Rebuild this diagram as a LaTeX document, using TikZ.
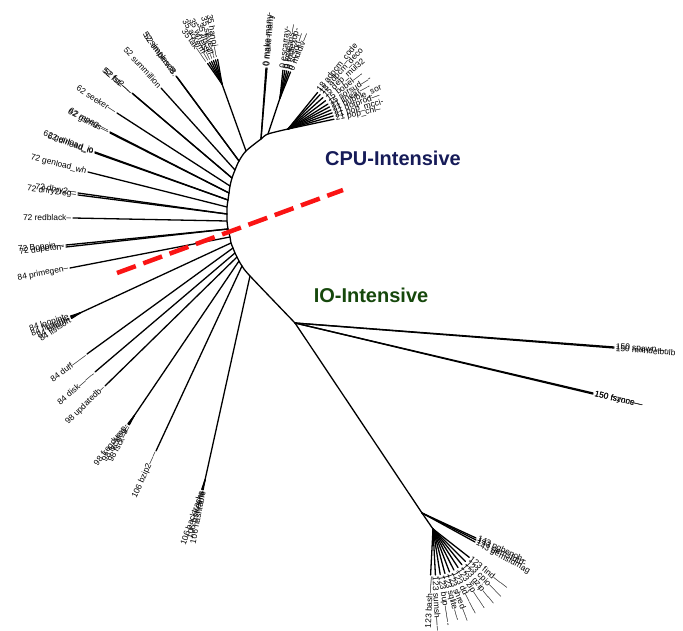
\documentclass[tikz,border=0pt]{standalone}
\usepackage{fontspec}
\setmainfont{Liberation Sans}
\usetikzlibrary{calc}
\definecolor{cpublue}{RGB}{22,27,88}
\definecolor{iogreen}{RGB}{22,72,12}
\definecolor{cutred}{RGB}{250,20,20}
\tikzset{
  edge/.style={line width=1.3pt, line cap=round},
  leaflabel/.style={font=\fontsize{8.4}{9}\selectfont, inner sep=1.2pt},
  groupname/.style={font=\bfseries\fontsize{20}{24}\selectfont},
}
% one branch of the tree with its label at the tip
\newcommand\leaf[4]{\draw[edge] (#1) -- (#2) node[leaflabel, pos=1, sloped, anchor=#4] (#2-t) {#3};}
% a fan of leaves around a common parent: root, prefix, length, anchor, angle/text list
\newcommand\fanout[5]{%
  \foreach \a/\t [count=\k] in {#5} {
    \coordinate (#2\k) at ($(#1)+({-(\a)}:#3)$);
    \leaf{#1}{#2\k}{\t}{#4}
  }}
\begin{document}
\begin{tikzpicture}[x=1pt,y=-1pt]
\useasboundingbox (0,0) rectangle (683,631);

% backbone of the tree
\coordinate (b0) at (288,129);
\coordinate (b1) at (268,134);
\coordinate (b2) at (261,139);
\coordinate (b3) at (246,151);
\coordinate (b4) at (239,161);
\coordinate (b5) at (235,170);
\coordinate (b6) at (232,178);
\coordinate (b7) at (230,186);
\coordinate (b8) at (229,193);
\coordinate (b9) at (228,200);
\coordinate (b10) at (227,207);
\coordinate (b11) at (227,214);
\coordinate (b12) at (227,221);
\coordinate (b13) at (228,229);
\coordinate (b14) at (230,237);
\coordinate (b15) at (231,243);
\coordinate (b16) at (233,248);
\coordinate (b17) at (235,253);
\coordinate (b18) at (237,257);
\coordinate (b19) at (239,261);
\coordinate (b20) at (242,266);
\coordinate (b21) at (250,276);
\coordinate (b22) at (295,323);
\draw[edge] plot[smooth, tension=0.5] coordinates {(b0) (b1) (b2) (b3) (b4) (b5) (b6) (b7) (b8) (b9) (b10) (b11) (b12) (b13) (b14) (b15) (b16) (b17) (b18) (b19) (b20) (b21) (b22)};

% CPU-intensive side
\fanout{b0}{ad}{47}{west}{51/18 adpcm\_code, 47/18 adpcm\_deco, 42/15 dep\_mul32, 37/15 bobel----, 32/15 sorsud----, 28/21 linear----, 24/21 bubble\_sor, 20/21 dotprod---, 16/21 pop\_mcci-, 12/21 pop\_chl--}

\coordinate (f1) at (280,98);
\draw[edge] (b1) -- (f1);
\fanout{f1}{es}{28}{west}{84/0 escarray-, 80/0 kmeans---, 76/0 mdtexop-, 72/0 scsort---, 68/0 muldiv---}

\coordinate (mm1) at (266,68);
\coordinate (mm2) at (267,68);
\leaf{b2}{mm1}{0 make-many-}{west}
\leaf{b2}{mm2}{0 make-many}{west}

\coordinate (f3) at (222,84);
\draw[edge] (b3) -- (f3);
\fanout{f3}{ha}{25}{east}{100/35 hanoi----, 105/35 sieve----, 110/35 fibcall--, 115/35 whetst---, 120/35 ackerm---, 125/35 tak------}

\coordinate (sp1) at (176,76);
\coordinate (sp2) at (177,77);
\leaf{b4}{sp1}{52 simplesc8.}{east}
\leaf{b4}{sp2}{52 timberwf8.}{east}

\coordinate (sm) at (161,88);
\leaf{b5}{sm}{52 summillion}{east}

\coordinate (fs1) at (132,93);
\coordinate (fs2) at (133,94);
\leaf{b6}{fs1}{52 fst-----}{east}
\leaf{b6}{fs2}{52 fst2----}{east}

\coordinate (sk) at (117,113);
\leaf{b7}{sk}{62 seeker---}{east}

\coordinate (mp1) at (110,132);
\coordinate (mp2) at (110,133);
\leaf{b8}{mp1}{62 mpeg----}{east}
\leaf{b8}{mp2}{62 gsmus---}{east}

\coordinate (gi1) at (95,152);
\coordinate (gi2) at (95,153);
\leaf{b9}{gi1}{62 genload\_io}{east}
\leaf{b9}{gi2}{62 dirload\_io}{east}

\coordinate (gw) at (88,172);
\leaf{b10}{gw}{72 genload\_wh}{east}

\coordinate (dh1) at (78,193);
\coordinate (dh2) at (78,195);
\leaf{b11}{dh1}{72 dhry2---}{east}
\leaf{b11}{dh2}{72 dhry2reg--}{east}

\coordinate (rb) at (73,218);
\leaf{b12}{rb}{72 redblack--}{east}

\coordinate (bo1) at (66,245);
\coordinate (bo2) at (66,247);
\leaf{b13}{bo1}{72 Boppin---}{east}
\leaf{b13}{bo2}{72 dupeton-}{east}

\coordinate (pg) at (70,268);
\leaf{b14}{pg}{84 primegen--}{east}

% IO-intensive side
\coordinate (f15) at (80,313);
\draw[edge] (b15) -- (f15);
\fanout{f15}{lp}{10}{east}{198/84 loopinte, 203/84 fibsum--, 208/84 bitcnt--, 213/84 listsort}

\coordinate (du) at (87,354);
\leaf{b16}{du}{84 duff------}{east}

\coordinate (dk) at (95,372);
\leaf{b17}{dk}{84 disk-------}{east}

\coordinate (ud) at (105,386);
\leaf{b18}{ud}{98 updatedb--}{east}

\coordinate (f19) at (134,416);
\draw[edge] (b19) -- (f19);
\fanout{f19}{fq}{10}{east}{232/98 freqdump-, 237/98 fscklog--, 242/98 fsck-----}

\coordinate (bz) at (156,451);
\leaf{b20}{bz}{106 bzip2-----}{east}

\coordinate (f21) at (205,480);
\draw[edge] (b21) -- (f21);
\fanout{f21}{bt}{10}{east}{251/106 backtracks, 255/106 bstreehs, 259/106 hashtable}

\coordinate (sw1) at (614,347);
\coordinate (sw2) at (614,348);
\leaf{b22}{sw1}{150 spawn----}{west}
\leaf{b22}{sw2}{150 mandelbulb}{west}

\coordinate (fz1) at (593,393);
\coordinate (fz2) at (593,394);
\leaf{b22}{fz1}{150 fszone---}{west}
\leaf{b22}{fz2}{150 fsyncs---}{west}

\coordinate (m) at (422,513);
\draw[edge] (b22) -- (m);
\coordinate (pb1) at (476,538);
\coordinate (pb2) at (476,540);
\coordinate (pb3) at (475,542);
\leaf{m}{pb1}{143 pgbench--}{west}
\leaf{m}{pb2}{143 gemsfdtd-}{west}
\leaf{m}{pb3}{143 gemsfdmag}{west}

\coordinate (p) at (433,529);
\draw[edge] (m) -- (p);
\fanout{p}{fd}{46}{west}{-38/123 find------, -45/123 cpio------, -51/123 gzip------, -57/123 zip-------, -63/123 dd--------, -69/123 shred-----, -75/123 sqlite----, -81/123 bup-------, -87/123 sumsh-----}
\coordinate (bs) at ($(p)+(93:46)$);
\leaf{p}{bs}{123 bash------}{east}

% split between the two groups
\coordinate (cut1) at (117,273);
\coordinate (cut2) at (343,190);
\draw[cutred, line width=4.5pt, dash pattern=on 20pt off 8pt] (cut1) -- (cut2);

\node[groupname, text=cpublue] (cpu) at (393,158) {CPU-Intensive};
\node[groupname, text=iogreen] (io) at (371,295) {IO-Intensive};
\end{tikzpicture}
\end{document}
